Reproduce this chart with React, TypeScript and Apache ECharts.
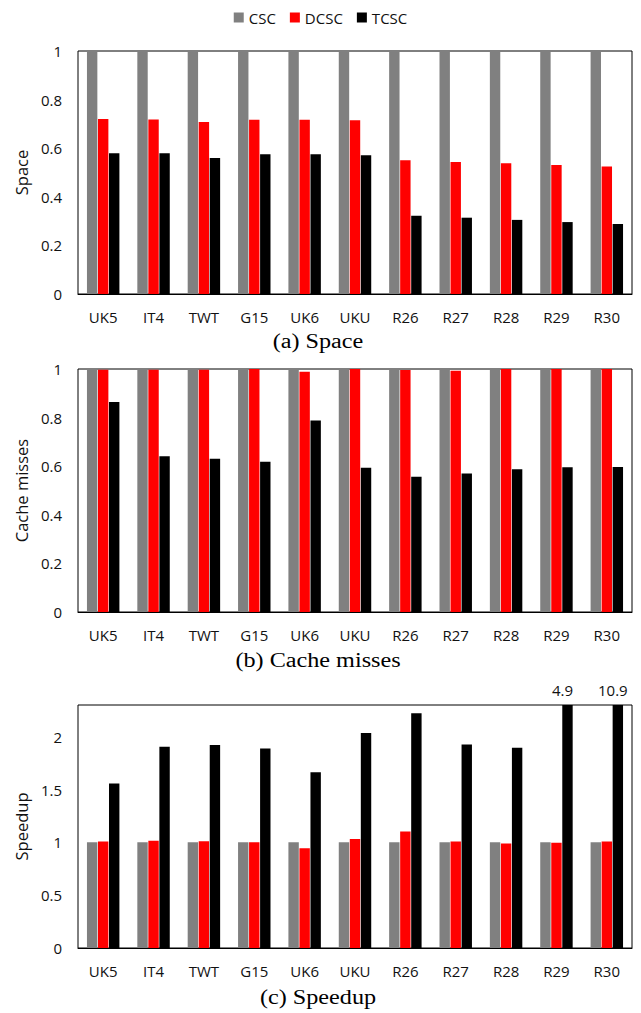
import React, { useEffect, useRef } from 'react';
import * as echarts from 'echarts';

const categories = ['UK5', 'IT4', 'TWT', 'G15', 'UK6', 'UKU', 'R26', 'R27', 'R28', 'R29', 'R30'];
const seriesNames = ['CSC', 'DCSC', 'TCSC'];
const seriesColors = ['#808080', '#ff0000', '#000000'];

const spaceCSC = [1, 1, 1, 1, 1, 1, 1, 1, 1, 1, 1];
const spaceDCSC = [0.72, 0.718, 0.708, 0.717, 0.717, 0.715, 0.55, 0.543, 0.538, 0.531, 0.525];
const spaceTCSC = [0.579, 0.579, 0.56, 0.575, 0.575, 0.571, 0.322, 0.314, 0.305, 0.296, 0.288];

const missCSC = [1, 1, 1, 1, 1, 1, 1, 1, 1, 1, 1];
const missDCSC = [0.997, 0.997, 0.997, 1.0, 0.989, 1.0, 0.996, 0.993, 1.0, 1.0, 1.0];
const missTCSC = [0.864, 0.641, 0.631, 0.618, 0.788, 0.594, 0.557, 0.57, 0.587, 0.596, 0.597];

const speedCSC = [1, 1, 1, 1, 1, 1, 1, 1, 1, 1, 1];
const speedDCSC = [1.007, 1.016, 1.01, 1.0, 0.943, 1.032, 1.102, 1.007, 0.988, 0.997, 1.007];
const speedTCSC = [1.556, 1.905, 1.921, 1.889, 1.664, 2.035, 2.222, 1.927, 1.895, 4.9, 10.9];

const yAxisNames = ['Space', 'Cache misses', 'Speedup'];
const captions = ['(a) Space', '(b) Cache misses', '(c) Speedup'];
const yScales = [
  { min: 0, max: 1, interval: 0.2 },
  { min: 0, max: 1, interval: 0.2 },
  { min: 0, max: 2.3, interval: 0.5 },
];

const panels = [
  [spaceCSC, spaceDCSC, spaceTCSC],
  [missCSC, missDCSC, missTCSC],
  [speedCSC, speedDCSC, speedTCSC],
];

const gridTops = [51, 369, 705];
const gridHeight = 243;
const captionY = [341, 660, 997];

const SANS = '"Open Sans", sans-serif';

export default function App() {
  const ref = useRef<HTMLDivElement>(null);

  useEffect(() => {
    document.body.style.margin = '0';
    if (!ref.current) return;
    const chart = echarts.init(ref.current, undefined, { renderer: 'svg' });

    const grids = gridTops.map((top) => ({
      left: 78,
      right: 9,
      top,
      height: gridHeight,
      show: true,
      borderColor: '#000',
      borderWidth: 1,
      backgroundColor: 'transparent',
    }));

    const xAxes = gridTops.map((_, i) => ({
      type: 'category',
      gridIndex: i,
      data: categories,
      axisLine: { show: true, lineStyle: { color: '#000', width: 1 } },
      axisTick: { show: false },
      axisLabel: { color: '#111', fontSize: 15, fontFamily: SANS, margin: 15 },
      splitLine: { show: false },
    }));

    const yAxes = yScales.map((s, i) => ({
      type: 'value',
      gridIndex: i,
      min: s.min,
      max: s.max,
      interval: s.interval,
      name: yAxisNames[i],
      nameLocation: 'middle',
      nameGap: 45,
      nameTextStyle: { color: '#111', fontSize: 16.5, fontFamily: SANS },
      axisLine: { show: false },
      axisTick: { show: false },
      splitLine: { show: false },
      axisLabel: { color: '#111', fontSize: 15, fontFamily: SANS, margin: 16, showMaxLabel: i === 2 ? false : true },
    }));

    const series: any[] = [];
    panels.forEach((panel, pi) => {
      panel.forEach((vals, si) => {
        const max = yScales[pi].max;
        series.push({
          type: 'bar',
          name: seriesNames[si],
          xAxisIndex: pi,
          yAxisIndex: pi,
          barWidth: 10.4,
          barGap: '6%',
          clip: true,
          itemStyle: { color: seriesColors[si] },
          data: vals.map((v) =>
            v > max
              ? {
                  value: v,
                  label: {
                    show: true,
                    position: 'top',
                    distance: 8,
                    offset: [-5, 0],
                    color: '#111',
                    fontSize: 15,
                    fontFamily: SANS,
                    formatter: String(v),
                  },
                }
              : v
          ),
        });
      });
    });

    const graphic = captions.map((c, i) => ({
      type: 'text',
      x: 318,
      y: captionY[i],
      scaleX: 1.21,
      style: {
        text: c,
        fill: '#000',
        fontSize: 20,
        fontFamily: '"Liberation Serif", "Times New Roman", serif',
        align: 'center',
        verticalAlign: 'middle',
      },
    }));

    chart.setOption({
      animation: false,
      backgroundColor: '#fff',
      legend: {
        data: seriesNames,
        top: 5,
        left: 'center',
        icon: 'rect',
        itemWidth: 10,
        itemHeight: 10,
        itemGap: 14,
        textStyle: { color: '#111', fontSize: 15, fontFamily: SANS },
      },
      grid: grids,
      xAxis: xAxes,
      yAxis: yAxes,
      series,
      graphic,
    } as any);

    return () => chart.dispose();
  }, []);

  return <div ref={ref} style={{ width: 641, height: 1013 }} />;
}
